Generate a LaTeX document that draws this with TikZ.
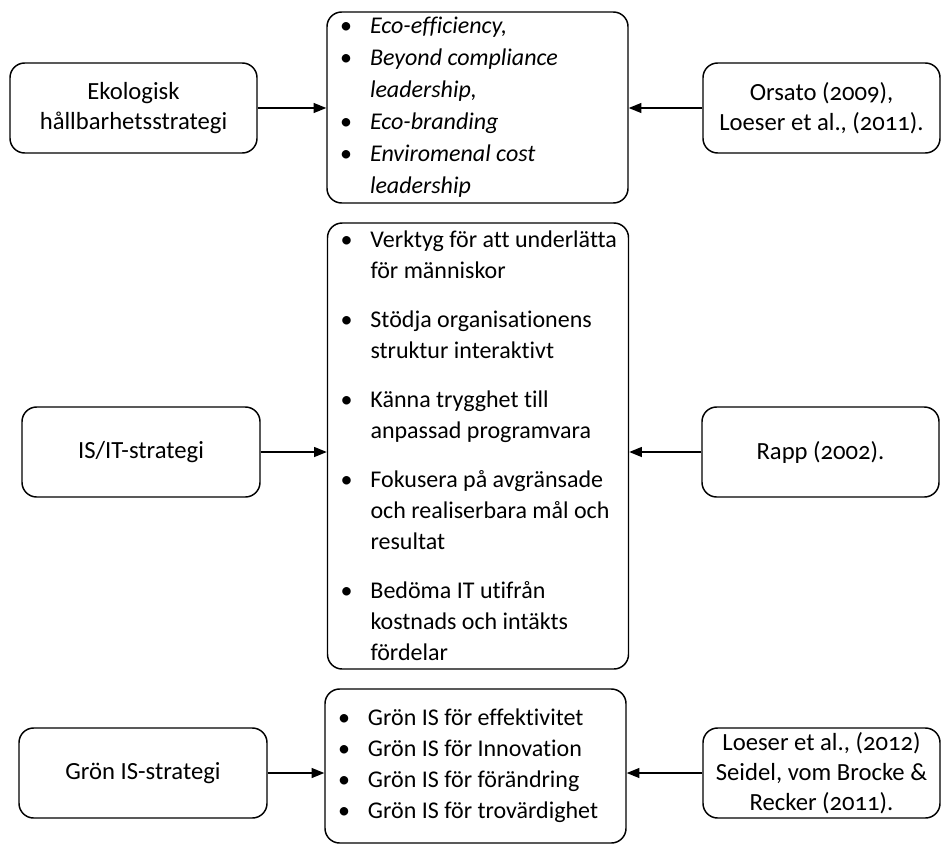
\documentclass[tikz,border=0pt]{standalone}
\usepackage{fontspec}
\setmainfont{Carlito}[Numbers=OldStyle,Ligatures=NoCommon]
\usetikzlibrary{arrows.meta}
\newcommand{\bul}{\hspace*{6.75pt}\makebox[22.5pt][l]{\upshape\textbullet}}
\newcommand{\ind}{\hspace*{29.25pt}}
\begin{document}
\begin{tikzpicture}[x=0.75pt,y=-0.75pt,
  box/.style={draw, line width=1.1pt, rounded corners=11pt, align=center, inner sep=0pt,
    minimum height=67.5pt, font=\fontsize{18.5}{22.5}\selectfont},
  list/.style={draw, line width=1.1pt, rounded corners=11pt, align=flush left, inner xsep=3pt,
    inner ysep=0pt, text width=219.75pt},
  conn/.style={line width=0.9pt, -{Triangle[length=9.5pt,width=7.5pt]}}]
\useasboundingbox (0,0) rectangle (941,845);

% left boxes
\node[box, minimum width=185.25pt] (a1) at (133.5,108) {Ekologisk\\hållbarhetsstrategi};
\node[box, minimum width=178.5pt] (a2) at (141,452) {IS/IT-strategi};
\node[box, minimum width=186pt] (a3) at (143,773) {Grön IS-strategi};

% right boxes
\node[box, minimum width=177.75pt] (c1) at (821.5,108) {Orsato (2009),\\Loeser et al., (2011).};
\node[box, minimum width=177.75pt] (c2) at (820.5,452) {Rapp (2002).};
\node[box, minimum width=177.75pt] (c3) at (821.5,773) {Loeser et al., (2012)\\Seidel, vom Brocke \&\\Recker (2011).};

% middle lists
\node[list, minimum height=143.25pt, font=\fontsize{18}{24}\selectfont\itshape] (b1) at (477.5,107.5)
  {\bul Eco-efficiency,\\
   \bul Beyond compliance\\
   \ind leadership,\\
   \bul Eco-branding\\
   \bul Enviromenal cost\\
   \ind leadership};

\node[list, minimum height=334.5pt, font=\fontsize{18}{23.25}\selectfont] (b2) at (478,446)
  {\bul Verktyg för att underlätta\\
   \ind för människor\\[13.5pt]
   \bul Stödja organisationens\\
   \ind struktur interaktivt\\[13.5pt]
   \bul Känna trygghet till\\
   \ind anpassad programvara\\[13.5pt]
   \bul Fokusera på avgränsade\\
   \ind och realiserbara mål och\\
   \ind resultat\\[13.5pt]
   \bul Bedöma IT utifrån\\
   \ind kostnads och intäkts\\
   \ind fördelar};

\node[list, minimum height=115.5pt, font=\fontsize{18}{23.25}\selectfont] (b3) at (475.5,766)
  {\bul Grön IS för effektivitet\\
   \bul Grön IS för Innovation\\
   \bul Grön IS för förändring\\
   \bul Grön IS för trovärdighet};

% connectors
\draw[conn] (a1.east) -- (a1.east -| b1.west);
\draw[conn] (c1.west) -- (c1.west -| b1.east);
\draw[conn] (a2.east) -- (a2.east -| b2.west);
\draw[conn] (c2.west) -- (c2.west -| b2.east);
\draw[conn] (a3.east) -- (a3.east -| b3.west);
\draw[conn] (c3.west) -- (c3.west -| b3.east);
\end{tikzpicture}
\end{document}
